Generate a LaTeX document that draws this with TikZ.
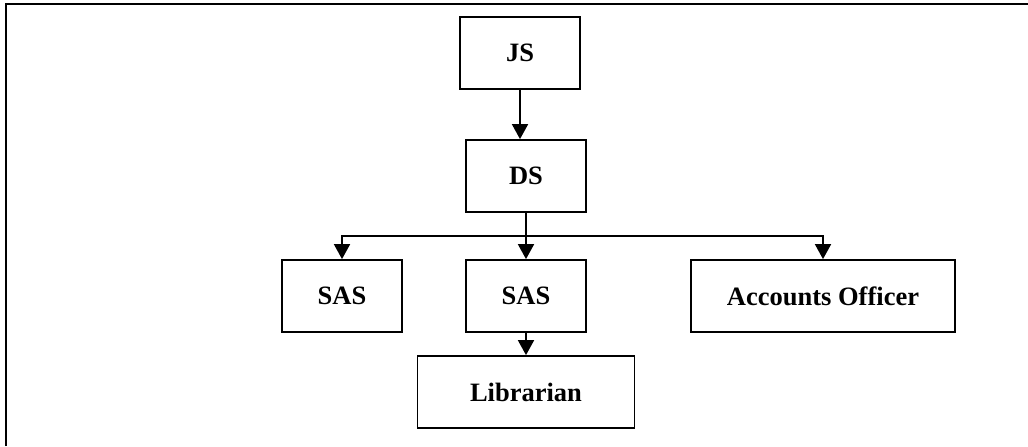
\documentclass[tikz,border=0pt]{standalone}
\usepackage{fontspec}
\setmainfont{Liberation Serif}
\usepackage{tikz}
\usetikzlibrary{positioning,shapes,arrows}
\usetikzlibrary{arrows.meta}
\tikzstyle{post}=[%
      rectangle, draw=black, line width=0.9pt, fill=none,
      minimum height=36pt, minimum width=60pt, inner sep=0pt,
      font=\fontsize{13.25}{16}\selectfont\bfseries
]
\tikzstyle{link}=[%
      -{Triangle[width=8pt,length=7.5pt]}, line width=0.9pt
]

\begin{document}
\begin{tikzpicture}[x=0.5pt, y=-0.5pt]
\useasboundingbox (0,0) rectangle (1028,446);
\draw[line width=1pt] (6,446) -- (6,3.5) -- (1028,3.5);

\node[post](js) at (520,53){JS};
\node[post](ds) at (526,176){DS};
\node[post](sas1) at (342,296){SAS};
\node[post](sas2) at (526,296){SAS};
\node[post, minimum width=132pt](ao) at (823,296){Accounts Officer};
\node[post, minimum width=108.5pt](lib) at (526,392){Librarian};
\coordinate (fork) at (526,236);

\draw[link](js.south) -- (js.south |- ds.north);
\draw[line width=0.9pt](ds.south) -- (fork);
\draw[link](fork) -- (sas2.north);
\draw[link](fork) -| (sas1.north);
\draw[link](fork) -| (ao.north);
\draw[link](sas2.south) -- (lib.north);
\end{tikzpicture}
\end{document}
